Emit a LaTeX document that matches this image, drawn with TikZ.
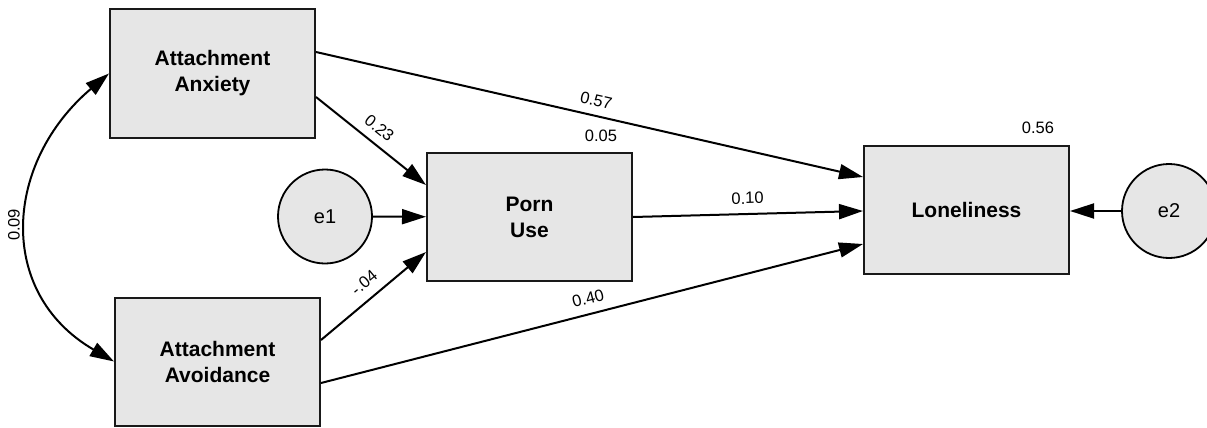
\documentclass[tikz,border=0pt]{standalone}
\usepackage{fontspec}
\setmainfont{Liberation Sans}
\usetikzlibrary{arrows.meta}
\definecolor{boxfill}{HTML}{E6E6E6}
\begin{document}
\begin{tikzpicture}[x=1pt,y=-1pt,
  varbox/.style={draw=black!90, fill=boxfill, line width=2pt, minimum width=205pt, minimum height=128pt, inner sep=0pt, align=center, font=\fontsize{21}{26}\selectfont\bfseries},
  errc/.style={draw=black, fill=boxfill, line width=1.8pt, circle, minimum size=94pt, inner sep=0pt, font=\fontsize{20}{24}\selectfont},
  conn/.style={line width=2pt, -{Triangle[length=24pt,width=15pt]}},
  coef/.style={font=\fontsize{16.5}{19}\selectfont, inner sep=0pt},
]
\useasboundingbox (0,0) rectangle (1207,428);

\node[varbox] (anx) at (212.5,73.5) {Attachment\\Anxiety};
\node[varbox] (avo) at (217.5,361.5) {Attachment\\Avoidance};
\node[varbox] (porn) at (529.5,217) {Porn\\Use};
\node[varbox] (lon) at (966.5,209.5) {Loneliness};
\node[errc] (e1) at (325,216.5) {e1};
\node[errc] (e2) at (1169,211) {e2};

\draw[conn] ([yshift=21.5pt]anx.east) -- node[coef,sloped,above=8.6pt,pos=0.506]{0.57} ([yshift=32.5pt]lon.west);
\draw[conn] ([yshift=-23.5pt]anx.east) -- node[coef,sloped,above=8.4pt,pos=0.49]{0.23} ([yshift=32pt]porn.west);
\draw[conn] (e1) -- (porn);
\draw[conn] ([yshift=21.5pt]avo.east) -- node[coef,sloped,above=9.5pt,pos=0.51]{-.04} ([yshift=-35pt]porn.west);
\draw[conn] ([yshift=-21.5pt]avo.east) -- node[coef,sloped,above=8.8pt,pos=0.5]{0.40} ([yshift=-34.5pt]lon.west);
\draw[conn] (porn.east) -- node[coef,sloped,above=9pt,pos=0.5]{0.10} ([yshift=-1.5pt]lon.west);
\draw[conn] (e2.west) -- (lon.east|-e2.west);

\node[coef] (r1) at ([xshift=-32pt,yshift=16pt]porn.north east) {0.05};
\node[coef] (r2) at ([xshift=-32pt,yshift=17pt]lon.north east) {0.56};

\draw[line width=2pt, {Triangle[length=24pt,width=15pt]}-{Triangle[length=24pt,width=15pt]}]
  (anx.west) .. controls (4.3,162.2) and (-4.5,292.5) ..
  node[coef, pos=0.5, rotate=90, anchor=south, inner ysep=7pt]{0.09} (avo.west);
\end{tikzpicture}
\end{document}
